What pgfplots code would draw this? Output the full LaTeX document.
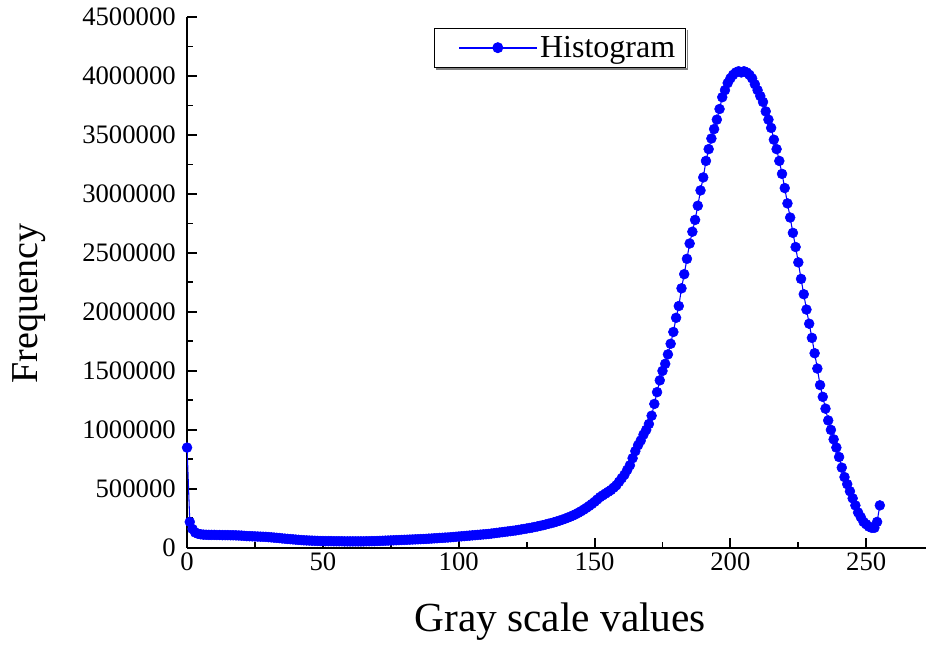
\documentclass[border=0pt]{standalone}
\usepackage{fontspec}
\setmainfont{Liberation Serif}
\usepackage{pgfplots}
\usepackage{pgfplotstable}
\pgfplotsset{compat=1.18}
\usetikzlibrary{calc}
\pgfplotstableread{
x y
0 850000
1 220000
2 160000
3 130000
4 120000
5 115000
6 112000
7 111000
8 110000
9 110000
10 110000
11 109000
12 109000
13 108000
14 108000
15 108000
16 107000
17 107000
18 106000
19 105000
20 104000
21 102000
22 100000
23 99000
24 98000
25 97000
26 96000
27 95000
28 94000
29 93000
30 91000
31 89000
32 87000
33 85000
34 83000
35 80000
36 78000
37 76000
38 74000
39 72000
40 70000
41 68000
42 66000
43 64000
44 63000
45 62000
46 61000
47 60000
48 59000
49 58000
50 58000
51 57000
52 57000
53 57000
54 56000
55 56000
56 56000
57 56000
58 55000
59 55000
60 55000
61 55000
62 55000
63 55000
64 55000
65 55000
66 56000
67 56000
68 57000
69 57000
70 58000
71 59000
72 60000
73 61000
74 62000
75 63000
76 64000
77 65000
78 66000
79 67000
80 68000
81 69000
82 70000
83 71000
84 72000
85 73000
86 74000
87 75000
88 76000
89 78000
90 79000
91 81000
92 82000
93 84000
94 85000
95 87000
96 88000
97 90000
98 92000
99 94000
100 96000
101 98000
102 100000
103 102000
104 104000
105 106000
106 108000
107 110000
108 112000
109 114000
110 116000
111 118000
112 121000
113 124000
114 127000
115 130000
116 133000
117 136000
118 139000
119 142000
120 145000
121 148000
122 152000
123 156000
124 160000
125 164000
126 168000
127 172000
128 177000
129 182000
130 187000
131 192000
132 198000
133 204000
134 210000
135 216000
136 223000
137 230000
138 238000
139 246000
140 255000
141 264000
142 274000
143 285000
144 297000
145 310000
146 324000
147 339000
148 355000
149 372000
150 390000
151 410000
152 430000
153 445000
154 460000
155 475000
156 490000
157 510000
158 530000
159 560000
160 590000
161 620000
162 660000
163 700000
164 760000
165 820000
166 870000
167 910000
168 960000
169 1000000
170 1050000
171 1120000
172 1220000
173 1320000
174 1420000
175 1500000
176 1560000
177 1640000
178 1730000
179 1830000
180 1950000
181 2050000
182 2200000
183 2320000
184 2450000
185 2580000
186 2680000
187 2780000
188 2900000
189 3030000
190 3140000
191 3280000
192 3380000
193 3470000
194 3550000
195 3630000
196 3720000
197 3820000
198 3880000
199 3940000
200 3980000
201 4010000
202 4030000
203 4040000
204 4030000
205 4040000
206 4030000
207 4010000
208 3980000
209 3930000
210 3880000
211 3830000
212 3780000
213 3700000
214 3630000
215 3560000
216 3460000
217 3380000
218 3280000
219 3170000
220 3050000
221 2920000
222 2800000
223 2670000
224 2550000
225 2420000
226 2280000
227 2150000
228 2020000
229 1900000
230 1780000
231 1650000
232 1520000
233 1380000
234 1280000
235 1180000
236 1080000
237 1000000
238 920000
239 850000
240 770000
241 680000
242 600000
243 540000
244 480000
245 420000
246 360000
247 300000
248 260000
249 220000
250 200000
251 180000
252 170000
253 170000
254 220000
255 360000
}\histdata
\begin{document}
\begin{tikzpicture}
\begin{axis}[
  name=ax,
  scale only axis,
  width=554pt, height=398pt,
  xmin=0, xmax=272, ymin=0, ymax=4500000,
  axis x line*=bottom, axis y line*=left,
  axis line style={line width=1.6pt, -},
  xtick={0,50,100,150,200,250}, minor x tick num=1,
  ytick={0,500000,1000000,1500000,2000000,2500000,3000000,3500000,4000000,4500000},
  minor y tick num=1,
  tick align=inside,
  major tick length=7.5pt, minor tick length=4.5pt,
  every tick/.style={black, line width=1.4pt},
  scaled y ticks=false,
  /pgf/number format/assume math mode=true,
  yticklabel style={/pgf/number format/fixed, /pgf/number format/1000 sep={}, xshift=-5pt},
  tick label style={font=\fontsize{20}{24}\selectfont},
  xlabel={Gray scale values}, ylabel={Frequency},
  xlabel style={font=\fontsize{31}{36}\selectfont, at={(axis description cs:0.505,0)}, anchor=base, yshift=-63pt},
  ylabel style={font=\fontsize{28.5}{34}\selectfont, at={(axis description cs:0,0.4605)}, anchor=base, yshift=112.5pt},
  legend style={name=leg, at={(0.505,0.98)}, anchor=north, draw=black, line width=0.7pt,
    font=\fontsize{24}{26}\selectfont, inner xsep=6pt, inner ysep=4pt},
  legend cell align=left,
  legend image code/.code={%
    \path (0pt,0pt) (70pt,0pt);
    \draw[blue, line width=1.3pt] (12pt,0pt) -- (70pt,0pt);
    \fill[blue] (41pt,0pt) circle[radius=3.7pt];},
]
\addplot[blue, line width=0.8pt, mark=*, mark size=3.7pt, mark options={solid, fill=blue, line width=0.4pt}] table {\histdata};
\addlegendentry{Histogram}
\end{axis}
\draw[gray, line width=1.2pt] ($(leg.north east)+(0.95pt,-1.6pt)$) -- ($(leg.south east)+(0.95pt,-0.95pt)$) -- ($(leg.south west)+(1.6pt,-0.95pt)$);
\pgfresetboundingbox
\path ($(ax.south west)+(-140.25pt,-75pt)$) rectangle ($(ax.north east)+(0pt,12.75pt)$);
\end{tikzpicture}
\end{document}
